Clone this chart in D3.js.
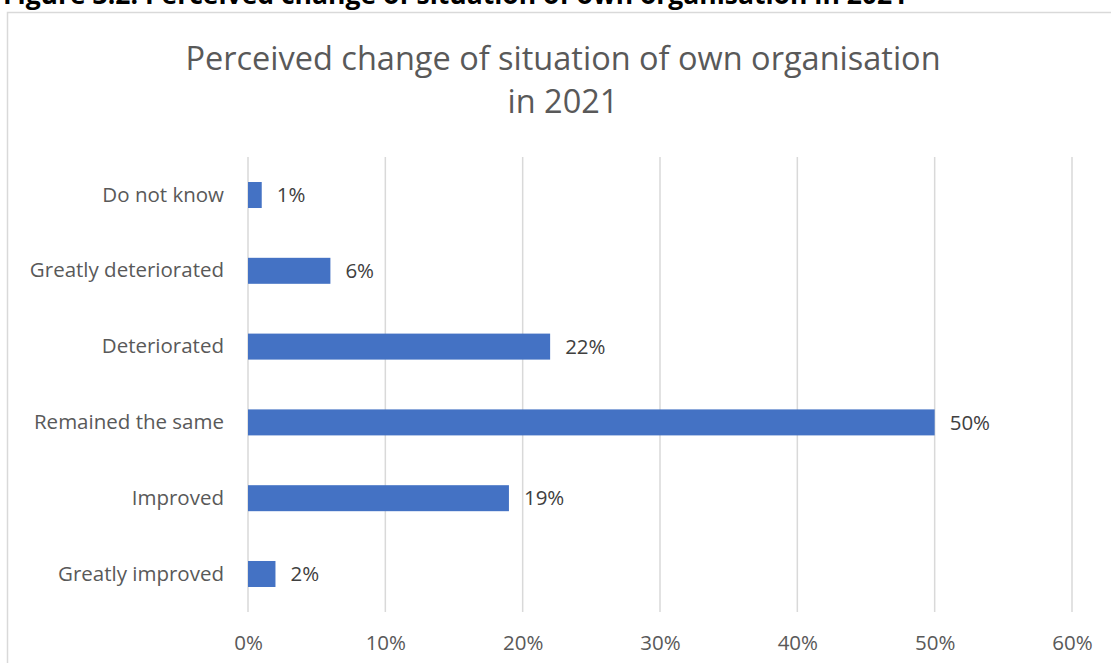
<!DOCTYPE html>
<html>
<head>
<meta charset="utf-8">
<script src="https://cdn.jsdelivr.net/npm/d3@7"></script>
<style>
  html, body { margin: 0; padding: 0; background: #fff; }
  svg { display: block; }
  text { font-family: "Open Sans", "Noto Sans", sans-serif; }
</style>
</head>
<body>
<svg id="chart" width="1111" height="663"></svg>
<script>
// Survey answers, top to bottom as shown
const categories = ["Do not know", "Greatly deteriorated", "Deteriorated", "Remained the same", "Improved", "Greatly improved"];
const shares = [1, 6, 22, 50, 19, 2];
const tickValues = [0, 10, 20, 30, 40, 50, 60];

const svg = d3.select("#chart");
const W = 1111, H = 663;

// Figure caption, partly above the page edge
svg.append("text")
  .attr("x", 3).attr("y", 4)
  .attr("font-size", 26.5).attr("font-weight", 700)
  .attr("fill", "#000")
  .text("Figure 3.2: Perceived change of situation of own organisation in 2021");

// Chart frame
svg.append("rect")
  .attr("x", 7.5).attr("y", 12.5)
  .attr("width", W + 20).attr("height", H + 20)
  .attr("fill", "#fff").attr("stroke", "#d9d9d9").attr("stroke-width", 1.5);

// Title
const title = svg.append("text")
  .attr("text-anchor", "middle")
  .attr("font-size", 32.5).attr("fill", "#595959");
title.append("tspan").attr("x", 563).attr("y", 70).text("Perceived change of situation of own organisation");
title.append("tspan").attr("x", 563).attr("y", 113).text("in 2021");

const plot = { left: 248, right: 1072, top: 157, bottom: 612 };

const x = d3.scaleLinear().domain([0, 60]).range([plot.left, plot.right]);
const y = d3.scaleBand().domain(categories).range([plot.top, plot.bottom]).paddingInner(0.657).paddingOuter(0.33);

// Vertical gridlines
svg.append("g").selectAll("line").data(tickValues).join("line")
  .attr("x1", d => x(d)).attr("x2", d => x(d))
  .attr("y1", plot.top).attr("y2", plot.bottom)
  .attr("stroke", "#d9d9d9").attr("stroke-width", 1.5);

// x axis labels
const xAxis = d3.axisBottom(x).tickValues(tickValues).tickFormat(d => d + "%").tickSize(0).tickPadding(0);
const gx = svg.append("g").attr("transform", `translate(0,${plot.bottom})`).call(xAxis);
gx.select(".domain").remove();
gx.selectAll("text")
  .attr("dy", null).attr("y", 38)
  .attr("font-size", 20.5).attr("fill", "#595959")
  .attr("font-family", "\"Open Sans\", sans-serif");

// y axis labels
const yAxis = d3.axisLeft(y).tickSize(0).tickPadding(24);
const gy = svg.append("g").attr("transform", `translate(${plot.left},0)`).call(yAxis);
gy.select(".domain").remove();
gy.selectAll("text")
  .attr("font-size", 20.5).attr("fill", "#595959")
  .attr("font-family", "\"Open Sans\", sans-serif");

// Bars
svg.append("g").selectAll("rect").data(categories).join("rect")
  .attr("x", x(0))
  .attr("y", d => y(d))
  .attr("width", (d, i) => x(shares[i]) - x(0))
  .attr("height", y.bandwidth())
  .attr("fill", "#4472c4");

// Value labels
svg.append("g").selectAll("text").data(categories).join("text")
  .attr("x", (d, i) => x(shares[i]) + 15)
  .attr("y", d => y(d) + y.bandwidth() / 2)
  .attr("dy", "0.35em")
  .attr("font-size", 20.5).attr("fill", "#404040")
  .text((d, i) => shares[i] + "%");
</script>
</body>
</html>
